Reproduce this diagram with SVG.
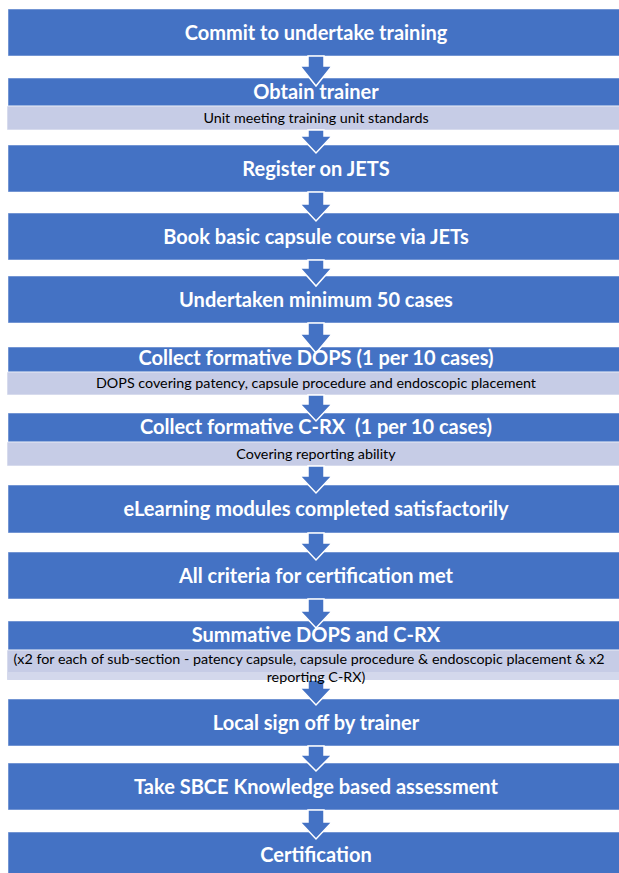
<svg xmlns="http://www.w3.org/2000/svg" width="619" height="873" viewBox="0 0 619 873">
<style>
.b{fill:#4472C4;stroke:#ffffff;stroke-width:1;stroke-opacity:0.5}
.l{fill:#C6CCE6;stroke:#ffffff;stroke-width:1;stroke-opacity:0.6}
.t{font-family:Lato,"Open Sans","Liberation Sans",sans-serif;font-weight:bold;font-size:20px;fill:#ffffff;text-anchor:middle}
.s{font-family:Lato,"Open Sans","Liberation Sans",sans-serif;font-size:14.3px;fill:#000000;text-anchor:middle}
.a{fill:#4472C4;stroke:#ffffff;stroke-width:1.5;stroke-linejoin:miter}
</style>
<rect width="619" height="873" fill="#ffffff"/>
<g id="nodes">
<g id="n1"><rect class="b" x="8" y="9" width="616" height="47"/></g>
<g id="n2"><rect class="b" x="8" y="78" width="616" height="28"/><rect class="l" x="7" y="106" width="618" height="24"/></g>
<g id="n3"><rect class="b" x="8" y="145" width="616" height="47"/></g>
<g id="n4"><rect class="b" x="8" y="213" width="616" height="47"/></g>
<g id="n5"><rect class="b" x="8" y="276" width="616" height="47"/></g>
<g id="n6"><rect class="b" x="8" y="347" width="616" height="25"/><rect class="l" x="7" y="372" width="618" height="23"/></g>
<g id="n7"><rect class="b" x="8" y="413" width="616" height="29"/><rect class="l" x="7" y="442" width="618" height="24"/></g>
<g id="n8"><rect class="b" x="8" y="485" width="616" height="48"/></g>
<g id="n9"><rect class="b" x="8" y="552" width="616" height="47"/></g>
<g id="n10"><rect class="b" x="8" y="621" width="616" height="29"/><rect class="l" x="7" y="650" width="618" height="30"/><rect x="7.5" y="672" width="617" height="8" fill="#D3D8EC"/></g>
<g id="n11"><rect class="b" x="8" y="699" width="616" height="47"/></g>
<g id="n12"><rect class="b" x="8" y="763" width="616" height="47"/></g>
<g id="n13"><rect class="b" x="8" y="832" width="616" height="48"/></g>
</g>
<g id="connectors">
<path class="a" d="M308 56 H324 V66 H332 L316 86 L300 66 H308 Z"/>
<path class="a" d="M308 130 H324 V136 H332 L316 153 L300 136 H308 Z"/>
<path class="a" d="M308 192 H324 V204 H332 L316 221 L300 204 H308 Z"/>
<path class="a" d="M308 260 H324 V268 H332 L316 286 L300 268 H308 Z"/>
<path class="a" d="M308 323 H324 V334 H332 L316 353 L300 334 H308 Z"/>
<path class="a" d="M308 395 H324 V404 H332 L316 421 L300 404 H308 Z"/>
<path class="a" d="M308 466 H324 V476 H332 L316 493 L300 476 H308 Z"/>
<path class="a" d="M308 533 H324 V543 H332 L316 560 L300 543 H308 Z"/>
<path class="a" d="M308 599 H324 V611 H332 L316 628 L300 611 H308 Z"/>
<path class="a" d="M308 680 H324 V688 H332 L316 705 L300 688 H308 Z"/>
<path class="a" d="M308 746 H324 V755 H332 L316 771 L300 755 H308 Z"/>
<path class="a" d="M308 810 H324 V822 H332 L316 839 L300 822 H308 Z"/>
</g>
<g id="labels">
<text class="t" x="316" y="40">Commit to undertake training</text>
<text class="t" x="316" y="99">Obtain trainer</text>
<text class="s" x="316" y="123">Unit meeting training unit standards</text>
<text class="t" x="316" y="176">Register on JETS</text>
<text class="t" x="316" y="244">Book basic capsule course via JETs</text>
<text class="t" x="316" y="307">Undertaken minimum 50 cases</text>
<text class="t" x="316" y="365">Collect formative DOPS (1 per 10 cases)</text>
<text class="s" x="316" y="388">DOPS covering patency, capsule procedure and endoscopic placement</text>
<text class="t" x="316" y="434" xml:space="preserve">Collect formative C-RX  (1 per 10 cases)</text>
<text class="s" x="316" y="459">Covering reporting ability</text>
<text class="t" x="316" y="516">eLearning modules completed satisfactorily</text>
<text class="t" x="316" y="583">All criteria for certification met</text>
<text class="t" x="316" y="642">Summative DOPS and C-RX</text>
<text class="s" x="309" y="664">(x2 for each of sub-section - patency capsule, capsule procedure &amp; endoscopic placement &amp; x2</text>
<text class="s" x="316" y="682">reporting C-RX)</text>
<text class="t" x="316" y="730">Local sign off by trainer</text>
<text class="t" x="316" y="794">Take SBCE Knowledge based assessment</text>
<text class="t" x="316" y="862">Certification</text>
</g>
</svg>
